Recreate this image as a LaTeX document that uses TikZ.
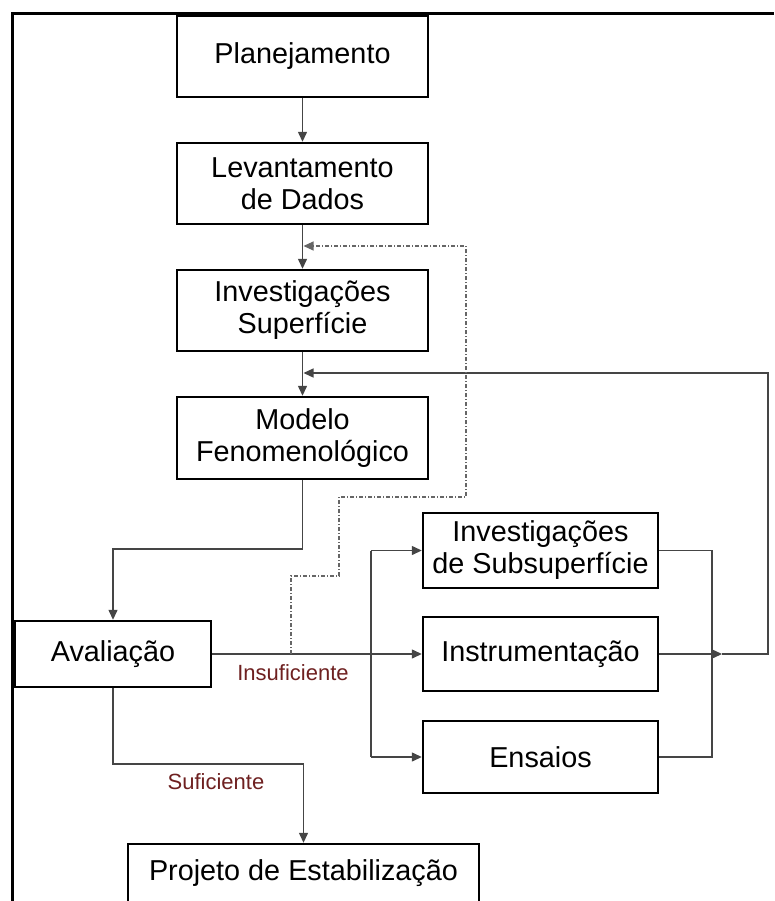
\documentclass[tikz,border=0pt]{standalone}
\usepackage{fontspec}
\setmainfont{Liberation Sans}
\usetikzlibrary{arrows.meta}

\definecolor{linegray}{HTML}{454545}
\definecolor{dashgray}{HTML}{666666}
\definecolor{labelred}{HTML}{6E2020}

\tikzset{
  stagebox/.style={draw=black, line width=2.4pt, fill=white, align=center,
    inner sep=0pt, font=\fontsize{28.8}{32}\selectfont},
  flow/.style={draw=linegray, line width=1.3pt,
    -{Triangle[length=10pt,width=9pt]}},
  plainflow/.style={draw=linegray, line width=1.3pt},
  feedback/.style={draw=dashgray, line width=1.1pt,
    dash pattern=on 4pt off 2pt on 1pt off 2pt,
    -{Triangle[length=10pt,width=9pt]}},
  verdict/.style={text=labelred, font=\fontsize{22}{24}\selectfont, inner sep=0pt},
}

\begin{document}
\begin{tikzpicture}[x=1pt, y=-1pt]
  \useasboundingbox (0,0) rectangle (774,901);

  % outer frame (top and left edges)
  \draw[line width=3pt, black] (12,901) -- (12,14) -- (774,14);

  % main column
  \node[stagebox, minimum width=251, minimum height=81] (plan) at (302.5,56.5) {Planejamento};
  \node[stagebox, minimum width=251, minimum height=81] (lev)  at (302.5,183.5) {Levantamento\\de Dados};
  \node[stagebox, minimum width=251, minimum height=81] (sup)  at (302.5,310.5) {Investigações\\Superfície};
  \node[stagebox, minimum width=251, minimum height=82] (fen)  at (302.5,438) {Modelo\\Fenomenológico};

  % evaluation
  \node[stagebox, minimum width=196, minimum height=66] (aval) at (113,654) {Avaliação};

  % complementary investigations
  \node[stagebox, minimum width=235, minimum height=75] (sub)  at (540.5,550.5) {Investigações\\de Subsuperfície};
  \node[stagebox, minimum width=235, minimum height=74] (inst) at (540.5,654) {Instrumentação};
  \node[stagebox, minimum width=235, minimum height=72] (ens)  at (540.5,757) {Ensaios};

  % final design (box runs past the lower edge)
  \node[stagebox, minimum width=351, text height=32pt, text depth=44pt, inner ysep=4pt,
        anchor=base] (proj) at (303.5,880) {Projeto de Estabilização};

  % routing points
  \coordinate (kinkFen) at (0,549);
  \coordinate (kinkSuf) at (0,764);
  \coordinate (distX)   at (371,0);
  \coordinate (mergeX)  at (712,0);
  \coordinate (mergeTip) at (722,654);
  \coordinate (loopX)   at (768,0);
  \coordinate (loopY)   at (0,373);
  \coordinate (fbA) at (291,576);
  \coordinate (fbB) at (339,576);
  \coordinate (fbC) at (339,497);
  \coordinate (fbD) at (466,497);
  \coordinate (fbE) at (466,246);
  \coordinate (fbTip) at (303.5,246);

  % main column arrows
  \draw[flow] (plan) -- (lev);
  \draw[flow] (lev) -- (sup);
  \draw[flow] (sup) -- (fen);

  % model to evaluation
  \draw[flow] (fen.south) -- (fen.south |- kinkFen) -| (aval.north);

  % insufficient: on to the complementary investigations
  \draw[flow] (aval.east) -- (inst.west);
  \draw[plainflow] (distX |- sub.west) -- (distX |- ens.west);
  \draw[flow] (distX |- sub.west) -- (sub.west);
  \draw[flow] (distX |- ens.west) -- (ens.west);

  % results merge and return to the model
  \draw[plainflow] (sub.east) -- (mergeX |- sub.east) -- (mergeX |- ens.east) -- (ens.east);
  \draw[flow] (inst.east) -- (mergeTip);
  \draw[flow] (mergeTip) -- (loopX |- mergeTip) -- (loopX |- loopY) -- (303.5,373);

  % dashed return to the surface investigations
  \draw[feedback] (fbA |- aval.east) -- (fbA) -- (fbB) -- (fbC) -- (fbD) -- (fbE) -- (fbTip);

  % sufficient: on to the design
  \draw[flow] (aval.south) -- (aval.south |- kinkSuf) -- (proj.north |- kinkSuf) -- (proj.north);

  % verdict labels
  \node[verdict] (insuf) at (293,673) {Insuficiente};
  \node[verdict] (suf)   at (216,782) {Suficiente};
\end{tikzpicture}
\end{document}
